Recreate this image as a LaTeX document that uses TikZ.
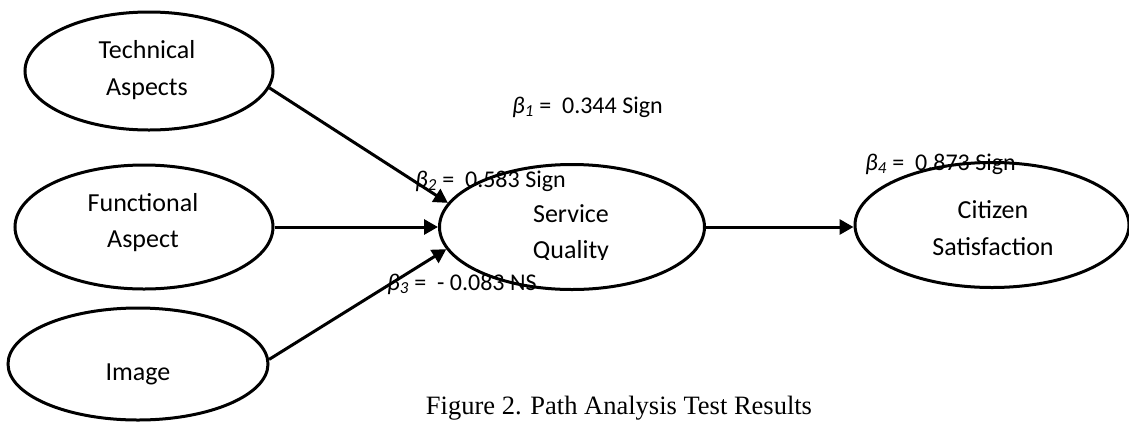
\documentclass[tikz,border=0pt]{standalone}
\usepackage{fontspec}
\setmainfont{Carlito}
\newfontfamily\capfont{Liberation Serif}
\usetikzlibrary{shapes.geometric,arrows.meta}
\begin{document}
\begin{tikzpicture}[x=1pt,y=-1pt,
 ell/.style={draw,line width=3pt,ellipse,inner sep=0pt},
 txt/.style={anchor=base,inner sep=0pt,font=\fontsize{26}{36}\selectfont},
 conn/.style={line width=3pt,-{Triangle[length=14pt,width=15pt]}},
 coef/.style={anchor=base west,inner sep=0pt,font=\fontsize{24}{28}\selectfont},
 captionstyle/.style={anchor=base,inner sep=0pt,font=\capfont\fontsize{26.5}{30}\selectfont}]
\useasboundingbox (0,0) rectangle (1129,421);
% ellipses
\node[ell,minimum width=248pt,minimum height=118pt] (ta) at (149,71) {};
\node[ell,minimum width=258pt,minimum height=124pt] (fa) at (144,227) {};
\node[ell,minimum width=260pt,minimum height=112pt] (im) at (138,364) {};
\node[ell,minimum width=265pt,minimum height=125pt] (sq) at (572,227) {};
\node[ell,minimum width=274pt,minimum height=125pt] (cs) at (992,225) {};
% texts
\node[txt] (ta1) at (147,58) {Technical};
\node[txt] (ta2) at (147,95) {Aspects};
\node[txt] (fa1) at (143,211) {Functional};
\node[txt] (fa2) at (143,247) {Aspect};
\node[txt] (im1) at (138,380) {Image};
\node[txt] (sq1) at (571,222) {Service};
\begin{scope}
\clip (500,230) rectangle (650,259);
\node[txt] (sq2) at (571,258) {Quality};
\end{scope}
\node[txt] (cs1) at (993,218) {Citizen};
\node[txt] (cs2) at (993,255) {Satisfaction};
% connectors
\draw[conn] (ta.-8) -- (sq.169);
\draw[conn] (fa.east) -- (sq.west);
\draw[conn] (im.2) -- (sq.190);
\draw[conn] (sq.east) -- (sq.east -| cs.west);
% coefficients
\node[coef] (b1) at (512,113) {\textit{β\textsubscript{1}} = \ 0.344 Sign};
\node[coef] (b2) at (415,187) {\textit{β\textsubscript{2}} = \ 0.583 Sign};
\node[coef] (b3) at (387,290) {\textit{β\textsubscript{3}} = \ - 0.083 NS};
\node[coef] (b4) at (865,170) {\textit{β\textsubscript{4}} = \ 0.873 Sign};
\node[captionstyle] (cap) at (619,414) {Figure 2. Path Analysis Test Results};
\end{tikzpicture}
\end{document}
